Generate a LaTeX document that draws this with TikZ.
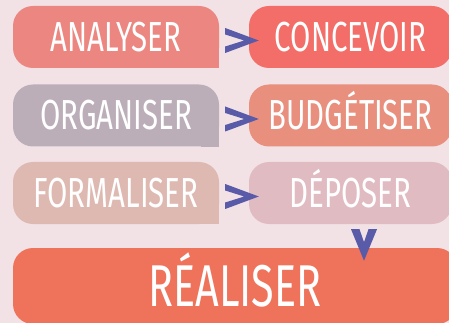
\documentclass[tikz,border=0pt]{standalone}
\usepackage{fontspec}
\usepackage{tikz}
\usetikzlibrary{calc}
\newfontfamily\boxfont[FakeStretch=0.7]{Fira Sans}

\definecolor{fond}{HTML}{F2E2E5}
\definecolor{cAnalyser}{HTML}{EC8681}
\definecolor{cConcevoir}{HTML}{F36E68}
\definecolor{cOrganiser}{HTML}{BBAEB8}
\definecolor{cBudget}{HTML}{E88F7D}
\definecolor{cFormaliser}{HTML}{DDB9B1}
\definecolor{cDeposer}{HTML}{E1BBC2}
\definecolor{cRealiser}{HTML}{EF735B}
\definecolor{cFleche}{HTML}{5A5BA8}

\begin{document}
\begin{tikzpicture}[x=1pt, y=-1pt,
  etape/.style={rounded corners=20pt, inner sep=0pt, text=white,
    minimum width=206pt, minimum height=62pt,
    font=\boxfont\fontsize{42}{42}\selectfont, text height=29pt, text depth=0pt},
  grande/.style={etape, minimum width=444pt, minimum height=76pt,
    font=\boxfont\fontsize{59}{59}\selectfont, text height=40pt},
  chev/.style={fill=cFleche}]
\fill[fond] (0,0) rectangle (449,323);
\clip (0,0) rectangle (449,323);

\node[etape, fill=cAnalyser] (analyser) at (116,37) {ANALYSER};
\node[etape, fill=cOrganiser] (organiser) at (116,115.5) {ORGANISER};
\node[etape, fill=cFormaliser] (formaliser) at (116,193) {FORMALISER};
\fill[cAnalyser] (analyser.south east) rectangle ++(-18,-18);
\fill[cOrganiser] (organiser.south east) rectangle ++(-18,-18);
\fill[cFormaliser] (formaliser.south east) rectangle ++(-18,-18);

\node[etape, fill=cConcevoir, minimum width=203pt] (concevoir) at (350.5,37) {CONCEVOIR};
\node[etape, fill=cBudget, minimum width=203pt] (budgetiser) at (350.5,115.5) {BUDGÉTISER};
\node[etape, fill=cDeposer, minimum width=203pt] (deposer) at (350.5,193) {DÉPOSER};

\node[grande, fill=cRealiser] (realiser) at (235,286) {RÉALISER};

\fill[chev] ($(analyser.east)+(6,-9)$) -- ($(concevoir.west)+(10,3.5)$) -- ($(analyser.east)+(6,16)$)
  -- ++(0,-6.5) -- ($(analyser.east)+(25,3.5)$) -- ($(analyser.east)+(6,-2.5)$) -- cycle;
\fill[chev] ($(organiser.east)+(6,-9)$) -- ($(budgetiser.west)+(10,3.5)$) -- ($(organiser.east)+(6,16)$)
  -- ++(0,-6.5) -- ($(organiser.east)+(25,3.5)$) -- ($(organiser.east)+(6,-2.5)$) -- cycle;
\fill[chev] ($(formaliser.east)+(6,-9)$) -- ($(deposer.west)+(10,3.5)$) -- ($(formaliser.east)+(6,16)$)
  -- ++(0,-6.5) -- ($(formaliser.east)+(25,3.5)$) -- ($(formaliser.east)+(6,-2.5)$) -- cycle;
\fill[chev] ($(deposer.south)+(0.5,5)$) -- ($(realiser.north -| deposer.south)+(13.5,13)$) -- ($(deposer.south)+(26.5,5)$)
  -- ++(-8.5,0) -- ($(deposer.south)+(13.5,18)$) -- ($(deposer.south)+(9,5)$) -- cycle;
\end{tikzpicture}
\end{document}
